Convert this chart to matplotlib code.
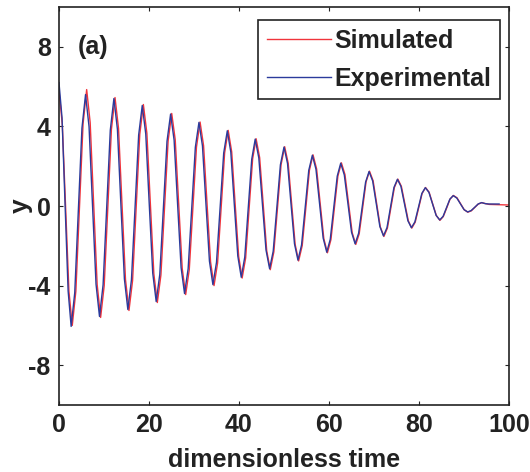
import matplotlib
matplotlib.use("Agg")
import matplotlib.pyplot as plt

# Experimental (blue) curve: peaks, troughs and shoulder points
t_exp = [0.0, 0.68, 1.35, 2.03, 2.7, 3.5, 4.3, 5.1, 5.9, 6.68, 7.45, 8.23,
         9.0, 9.8, 10.6, 11.4, 12.2, 12.98, 13.75, 14.53, 15.3, 16.1, 16.9, 17.7,
         18.5, 19.28, 20.05, 20.83, 21.6, 22.4, 23.2, 24.0, 24.8, 25.58, 26.35, 27.13,
         27.9, 28.7, 29.5, 30.3, 31.1, 31.88, 32.65, 33.43, 34.2, 35.0, 35.8, 36.6,
         37.4, 38.18, 38.95, 39.73, 40.5, 41.28, 42.05, 42.83, 43.6, 44.4, 45.2, 46.0,
         46.8, 47.6, 48.4, 49.2, 50.0, 50.78, 51.55, 52.33, 53.1, 53.9, 54.7, 55.5,
         56.3, 57.1, 57.9, 58.7, 59.5, 60.28, 61.05, 61.83, 62.6, 63.4, 64.2, 65.0,
         65.8, 66.58, 67.35, 68.13, 68.9, 69.7, 70.5, 71.3, 72.1, 72.88, 73.65, 74.43,
         75.2, 75.98, 76.75, 77.53, 78.3, 79.08, 79.85, 80.63, 81.4, 82.2, 83.0, 83.8,
         84.6, 85.35, 86.1, 86.85, 87.6, 88.4, 89.2, 90.0, 90.8, 91.58, 92.35, 93.13,
         93.9, 94.7, 95.5, 97.8]
y_exp = [6.2, 4.42, 0.08, -4.27, -6.05, -4.36, -0.22, 3.91, 5.6, 3.98, 0.03, -3.93,
         -5.55, -3.96, -0.08, 3.81, 5.4, 3.86, 0.1, -3.66, -5.2, -3.71, -0.08, 3.56,
         5.05, 3.62, 0.12, -3.37, -4.8, -3.43, -0.09, 3.25, 4.62, 3.31, 0.11, -3.09,
         -4.4, -3.15, -0.1, 2.95, 4.2, 3.02, 0.13, -2.77, -3.95, -2.83, -0.09, 2.66,
         3.78, 2.71, 0.1, -2.51, -3.58, -2.57, -0.11, 2.35, 3.36, 2.42, 0.1, -2.21,
         -3.15, -2.27, -0.1, 2.07, 2.96, 2.14, 0.12, -1.9, -2.72, -1.96, -0.09, 1.79,
         2.55, 1.85, 0.12, -1.61, -2.32, -1.67, -0.09, 1.5, 2.15, 1.56, 0.13, -1.31,
         -1.9, -1.37, -0.09, 1.2, 1.73, 1.26, 0.12, -1.03, -1.5, -1.09, -0.08, 0.93,
         1.34, 0.99, 0.13, -0.74, -1.09, -0.8, -0.09, 0.63, 0.92, 0.69, 0.11, -0.47,
         -0.7, -0.52, -0.09, 0.34, 0.52, 0.4, 0.11, -0.18, -0.3, -0.23, -0.07, 0.1,
         0.17, 0.12, 0.1, 0.1]

# Simulated (red) curve, lags the experiment slightly
t_sim = [0.0, 0.74, 1.48, 2.21, 2.95, 3.75, 4.55, 5.35, 6.15, 6.93, 7.7, 8.48,
         9.25, 10.05, 10.85, 11.65, 12.45, 13.23, 14.0, 14.78, 15.55, 16.35, 17.15, 17.95,
         18.75, 19.53, 20.3, 21.08, 21.85, 22.65, 23.45, 24.25, 25.05, 25.83, 26.6, 27.38,
         28.15, 28.95, 29.75, 30.55, 31.35, 32.13, 32.9, 33.68, 34.45, 35.24, 36.03, 36.81,
         37.6, 38.38, 39.15, 39.93, 40.7, 41.48, 42.25, 43.03, 43.8, 44.59, 45.38, 46.16,
         46.95, 47.75, 48.55, 49.35, 50.15, 50.93, 51.7, 52.48, 53.25, 54.05, 54.85, 55.65,
         56.45, 57.25, 58.05, 58.85, 59.65, 60.43, 61.2, 61.98, 62.75, 63.55, 64.35, 65.15,
         65.95, 66.71, 67.48, 68.24, 69.0, 69.8, 70.6, 71.4, 72.2, 72.98, 73.75, 74.53,
         75.3, 76.08, 76.85, 77.63, 78.4, 79.16, 79.93, 80.69, 81.45, 82.25, 83.05, 83.85,
         84.65, 85.4, 86.15, 86.9, 87.65, 88.45, 89.25, 90.05, 90.85, 91.63, 92.4, 93.18,
         93.95, 94.75, 95.6, 100.0]
y_sim = [5.8, 4.09, -0.1, -4.29, -6.0, -4.28, -0.08, 4.13, 5.85, 4.19, 0.13, -3.94,
         -5.6, -4.0, -0.08, 3.85, 5.45, 3.9, 0.1, -3.7, -5.25, -3.75, -0.08, 3.6,
         5.1, 3.66, 0.13, -3.41, -4.85, -3.47, -0.1, 3.27, 4.65, 3.33, 0.1, -3.13,
         -4.45, -3.2, -0.12, 2.96, 4.22, 3.03, 0.11, -2.81, -4.0, -2.87, -0.1, 2.67,
         3.8, 2.72, 0.09, -2.54, -3.62, -2.61, -0.12, 2.37, 3.38, 2.43, 0.09, -2.25,
         -3.2, -2.3, -0.11, 2.08, 2.98, 2.15, 0.11, -1.93, -2.76, -1.99, -0.1, 1.8,
         2.57, 1.86, 0.11, -1.64, -2.35, -1.69, -0.09, 1.51, 2.17, 1.58, 0.12, -1.34,
         -1.93, -1.4, -0.09, 1.22, 1.75, 1.27, 0.11, -1.05, -1.53, -1.11, -0.09, 0.93,
         1.35, 0.99, 0.12, -0.75, -1.11, -0.81, -0.09, 0.63, 0.93, 0.69, 0.1, -0.48,
         -0.72, -0.53, -0.1, 0.35, 0.53, 0.41, 0.11, -0.19, -0.31, -0.24, -0.07, 0.1,
         0.17, 0.12, 0.08, 0.05]

x_ticks = [0, 20, 40, 60, 80, 100]
y_ticks = [-8, -4, 0, 4, 8]

plt.rcParams['font.family'] = ['Liberation Sans', 'DejaVu Sans']
plt.rcParams['font.weight'] = 'bold'
plt.rcParams['axes.unicode_minus'] = False

fs = 18
ink = '#222222'

fig = plt.figure(figsize=(5.3, 4.72), dpi=100)
ax = fig.add_axes([0.1113, 0.1419, 0.8491, 0.8433])

ax.plot(t_sim, y_sim, color='#f0343c', lw=1.0, label='Simulated')
ax.plot(t_exp, y_exp, color='#2b3b9c', lw=1.0, label='Experimental')

ax.set_xlim(0, 100)
ax.set_ylim(-10, 10)
ax.set_xticks(x_ticks)
ax.set_yticks(y_ticks)
ax.tick_params(direction='in', length=3, width=0.8, top=True, right=True,
               labelsize=fs, colors=ink, pad=6)
for s in ax.spines.values():
    s.set_color(ink)
    s.set_linewidth(1.2)

ax.set_xlabel('dimensionless time', fontsize=fs, fontweight='bold', color=ink, labelpad=8)
ax.set_ylabel('y', fontsize=19, fontweight='bold', color=ink)
ax.yaxis.set_label_coords(-0.058, 0.5)
ax.text(4.2, 8.0, '(a)', fontsize=fs, fontweight='bold', color=ink, va='center')

leg = ax.legend(loc='upper right', bbox_to_anchor=(0.98, 0.967), fontsize=fs,
                handlelength=2.55, handletextpad=0.15, borderpad=0.35, labelspacing=0.55,
                fancybox=False, framealpha=1, borderaxespad=0)
leg.get_frame().set_edgecolor(ink)
leg.get_frame().set_linewidth(1.2)
for txt in leg.get_texts():
    txt.set_color(ink)

fig.savefig('out.png', dpi=100)
